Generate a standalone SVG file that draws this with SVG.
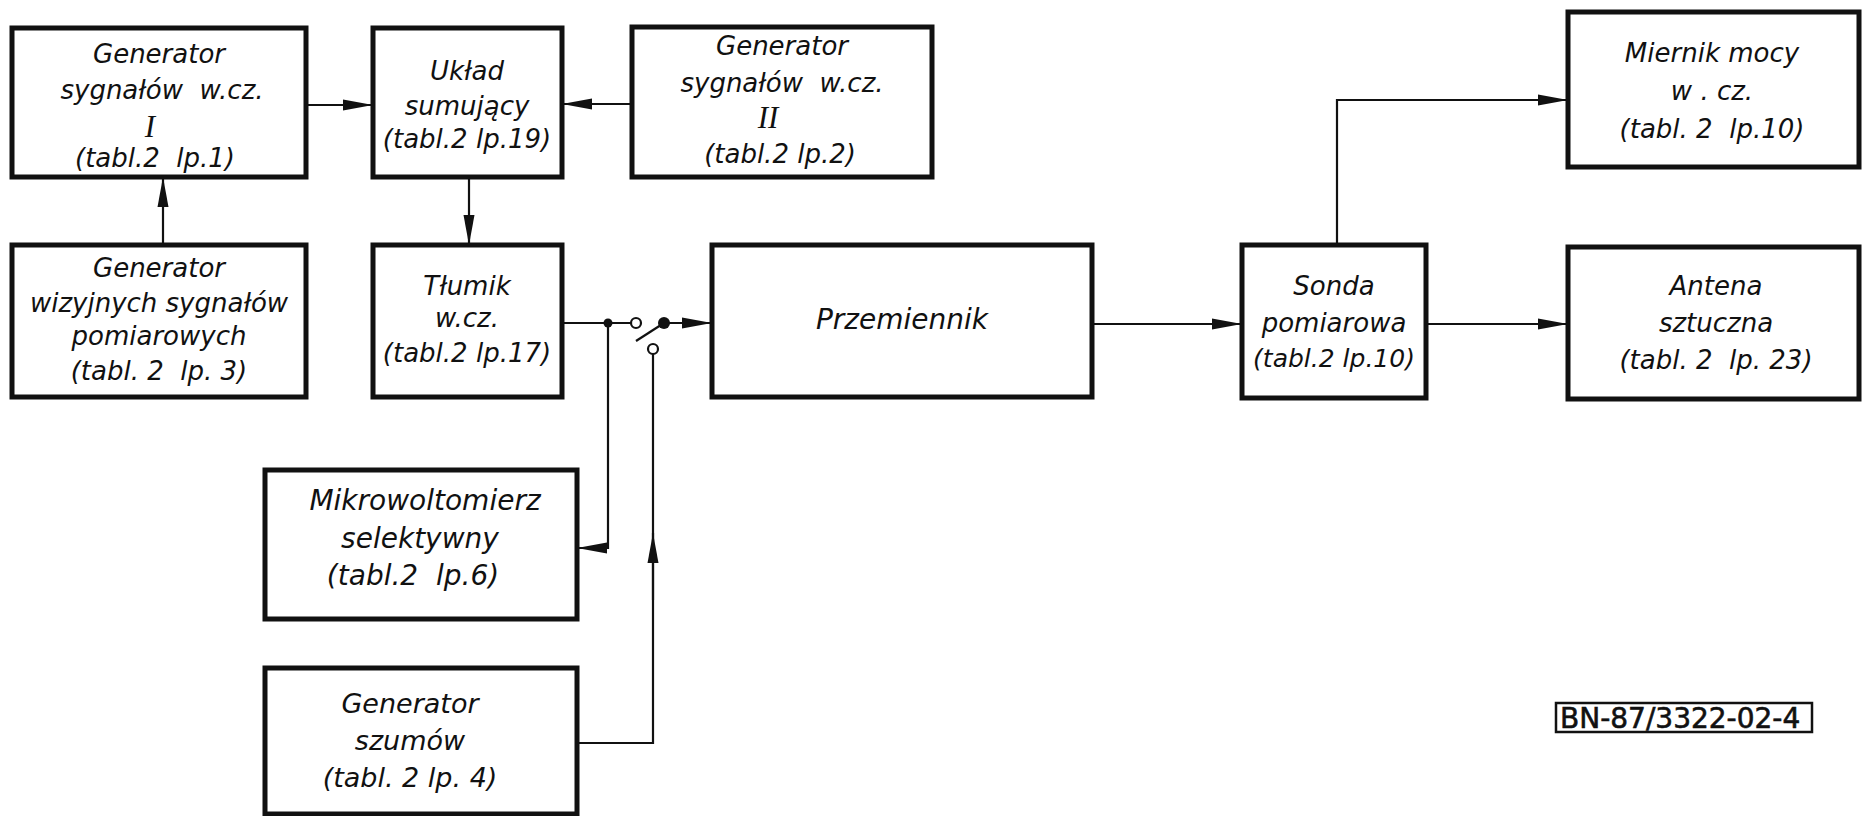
<svg xmlns="http://www.w3.org/2000/svg" width="1863" height="816" viewBox="0 0 1863 816">
<style>
.box{fill:#fff;stroke:#111;stroke-width:5}
.t{font-family:"DejaVu Sans","Liberation Sans",sans-serif;font-style:italic;font-size:26px;fill:#111;text-anchor:middle}
.big{font-size:28px}
.rn{font-family:"Liberation Serif","DejaVu Serif",serif;font-size:31px}
.w{fill:none;stroke:#111;stroke-width:2.2}
.arr{marker-end:url(#ah)}
</style>
<defs>
<marker id="ah" markerUnits="userSpaceOnUse" markerWidth="30" markerHeight="12" refX="30" refY="6" orient="auto"><path d="M0,0.5 L30,6 L0,11.5 z" fill="#111"/></marker>
</defs>
<rect width="1863" height="816" fill="#fff"/>

<g id="connectors">
  <path class="w arr" d="M306,105 H373"/>
  <path class="w arr" d="M632,104 H562"/>
  <path class="w arr" d="M163,245 V177"/>
  <path class="w arr" d="M469,177 V245"/>
  <path class="w" d="M561,323 H631"/>
  <circle cx="608" cy="323" r="4.5" fill="#111"/>
  <circle cx="636" cy="323" r="5" fill="#fff" stroke="#111" stroke-width="2.2"/>
  <path class="w" d="M636,341 L664,323"/>
  <circle cx="664" cy="323" r="6" fill="#111"/>
  <path class="w arr" d="M664,323 H712"/>
  <path class="w arr" d="M608,323 V548 H577"/>
  <circle cx="653" cy="349" r="5" fill="#fff" stroke="#111" stroke-width="2.2"/>
  <path class="w" d="M577,743 H653 V354"/>
  <path class="w arr" d="M653,600 V533"/>
  <path class="w arr" d="M1092,324 H1242"/>
  <path class="w arr" d="M1426,324 H1568"/>
  <path class="w arr" d="M1337,245 V100 H1568"/>
</g>

<g id="gen1">
  <rect class="box" x="12" y="28" width="294" height="149"/>
  <text class="t" x="159" y="63">Generator</text>
  <text class="t" x="162" y="99">sygnałów&#160; w.cz.</text>
  <text class="t rn" x="150" y="137">I</text>
  <text class="t" x="155" y="167">(tabl.2&#160; lp.1)</text>
</g>
<g id="uklad">
  <rect class="box" x="373" y="28" width="189" height="149"/>
  <text class="t" x="467" y="80">Układ</text>
  <text class="t" x="467" y="115">sumujący</text>
  <text class="t" x="467" y="148">(tabl.2 lp.19)</text>
</g>
<g id="gen2">
  <rect class="box" x="632" y="27" width="300" height="150"/>
  <text class="t" x="782" y="55">Generator</text>
  <text class="t" x="782" y="92">sygnałów&#160; w.cz.</text>
  <text class="t rn" x="768" y="128">II</text>
  <text class="t" x="780" y="163">(tabl.2 lp.2)</text>
</g>
<g id="genwiz">
  <rect class="box" x="12" y="245" width="294" height="152"/>
  <text class="t" x="159" y="277">Generator</text>
  <text class="t" x="159" y="312">wizyjnych sygnałów</text>
  <text class="t" x="159" y="345">pomiarowych</text>
  <text class="t" x="159" y="380">(tabl. 2&#160; lp. 3)</text>
</g>
<g id="tlumik">
  <rect class="box" x="373" y="245" width="189" height="152"/>
  <text class="t" x="467" y="295">Tłumik</text>
  <text class="t" x="467" y="327">w.cz.</text>
  <text class="t" x="467" y="362">(tabl.2 lp.17)</text>
</g>
<g id="przemiennik">
  <rect class="box" x="712" y="245" width="380" height="152"/>
  <text class="t big" x="902" y="329">Przemiennik</text>
</g>
<g id="sonda">
  <rect class="box" x="1242" y="245" width="184" height="153"/>
  <text class="t" x="1334" y="295">Sonda</text>
  <text class="t" x="1334" y="332">pomiarowa</text>
  <text class="t" x="1334" y="367" style="font-size:25px">(tabl.2 lp.10)</text>
</g>
<g id="miernik">
  <rect class="box" x="1568" y="12" width="291" height="155"/>
  <text class="t" x="1712" y="62">Miernik mocy</text>
  <text class="t" x="1712" y="100">w . cz.</text>
  <text class="t" x="1712" y="138">(tabl. 2&#160; lp.10)</text>
</g>
<g id="antena">
  <rect class="box" x="1568" y="247" width="291" height="152"/>
  <text class="t" x="1716" y="295">Antena</text>
  <text class="t" x="1716" y="332">sztuczna</text>
  <text class="t" x="1716" y="369">(tabl. 2&#160; lp. 23)</text>
</g>
<g id="mikro">
  <rect class="box" x="265" y="470" width="312" height="149"/>
  <text class="t big" x="425" y="510">Mikrowoltomierz</text>
  <text class="t big" x="420" y="548">selektywny</text>
  <text class="t big" x="413" y="585">(tabl.2&#160; lp.6)</text>
</g>
<g id="genszum">
  <rect class="box" x="265" y="668" width="312" height="146"/>
  <text class="t" x="410" y="713" style="font-size:27px">Generator</text>
  <text class="t" x="410" y="750" style="font-size:27px">szumów</text>
  <text class="t" x="410" y="787" style="font-size:27px">(tabl. 2 lp. 4)</text>
</g>
<g id="label">
  <rect x="1556" y="703" width="256" height="29" fill="none" stroke="#111" stroke-width="2.5"/>
  <text x="1560" y="728" font-family="DejaVu Sans, sans-serif" font-size="28" fill="#111" stroke="#111" stroke-width="0.6">BN-87/3322-02-4</text>
</g>
</svg>
